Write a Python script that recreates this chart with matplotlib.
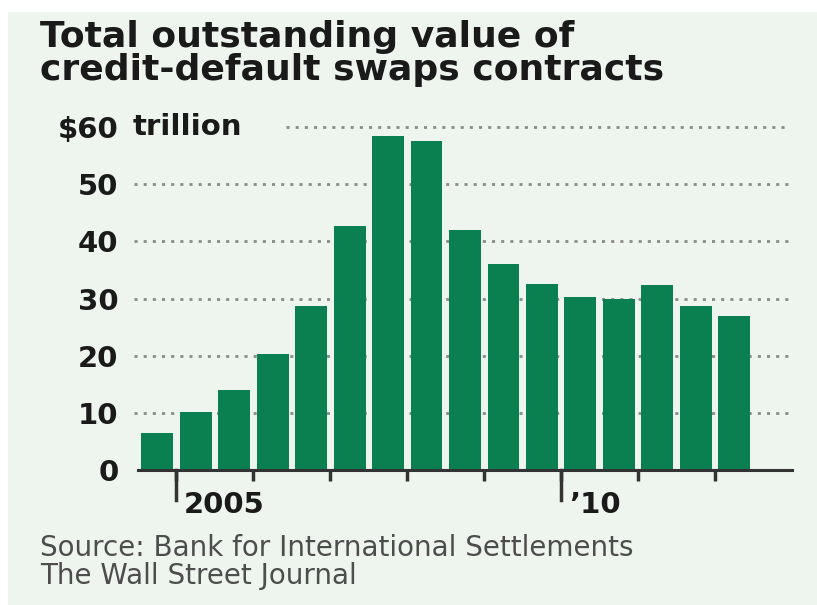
import numpy as np
import matplotlib
matplotlib.use("Agg")
import matplotlib.pyplot as plt
from matplotlib.patches import Rectangle

# half-year outstanding CDS value, $ trillion (Dec 2004 .. Jun 2012)
periods = ["Dec04", "Jun05", "Dec05", "Jun06", "Dec06", "Jun07", "Dec07", "Jun08",
           "Dec08", "Jun09", "Dec09", "Jun10", "Dec10", "Jun11", "Dec11", "Jun12"]
values = [6.4, 10.1, 14.0, 20.3, 28.7, 42.6, 58.4, 57.5,
          41.9, 36.1, 32.6, 30.2, 30.0, 32.3, 28.7, 26.9]
y_ticks = [0, 10, 20, 30, 40, 50, 60]
y_labels = ["0", "10", "20", "30", "40", "50", "$60"]
year_labels = {"Jun05": "2005", "Jun10": "\u201910"}

W, H = 817, 605
bg = "#eef5ef"
green = "#0a8050"
ink = "#1a1a1a"

fig = plt.figure(figsize=(W / 100, H / 100), dpi=100)
fig.patch.set_facecolor("white")
fig.patches.append(Rectangle((8 / W, 0), 1 - 8 / W, 1 - 12 / H, transform=fig.transFigure,
                             facecolor=bg, edgecolor="none", zorder=-10))

ax = fig.add_axes([138 / W, 1 - 470 / H, (792 - 138) / W, (470 - 127) / H])
ax.set_facecolor("none")

x = np.arange(len(values))
ax.bar(x, values, width=0.83, color=green, zorder=3)
ax.set_xlim(-0.5, len(values) + 0.5)
ax.set_ylim(0, 60)

# dotted gridlines
for yv in y_ticks[1:]:
    start = 3.35 if yv == 60 else -0.6
    ax.hlines(yv, start, len(values) + 0.4, colors="#8a8a8a", linestyles=(0, (1.1, 2.2)),
              linewidth=2.0, zorder=1, clip_on=False)

for s in ["top", "right", "left"]:
    ax.spines[s].set_visible(False)
ax.spines["bottom"].set_color("#333333")
ax.spines["bottom"].set_linewidth(2.2)
ax.spines["bottom"].set_zorder(4)

ax.set_yticks(y_ticks)
ax.set_yticklabels(y_labels, fontsize=21, fontweight="bold", color=ink)
ax.tick_params(axis="y", length=0, pad=14)

# year boundary ticks
ticks = np.arange(0.5, len(values) - 1, 2)
ax.set_xticks(ticks)
ax.set_xticklabels([])
ax.tick_params(axis="x", length=8, width=2.5, color="#333333")
for t in ticks:
    p = periods[int(t + 0.5)]
    if p in year_labels:
        ax.plot([t, t], [0, -5.3], color="#333333", lw=2.5, clip_on=False, zorder=4)
        ax.text(t + 0.2, -7.6, year_labels[p], fontsize=21,
                fontweight="bold", color=ink, ha="left", va="baseline")

fig.text(133 / W, 1 - 135 / H, "trillion", fontsize=21, fontweight="bold",
         color=ink, ha="left", va="baseline")

fig.text(40 / W, 1 - 47 / H, "Total outstanding value of",
         fontsize=26, fontweight="bold", color=ink, ha="left", va="baseline")
fig.text(40 / W, 1 - 80 / H, "credit-default swaps contracts",
         fontsize=26, fontweight="bold", color=ink, ha="left", va="baseline")

fig.text(40 / W, 1 - 556 / H, "Source: Bank for International Settlements",
         fontsize=20, color="#4d4d4d", ha="left", va="baseline")
fig.text(40 / W, 1 - 584 / H, "The Wall Street Journal",
         fontsize=20, color="#4d4d4d", ha="left", va="baseline")

fig.savefig("out.png", dpi=100)
